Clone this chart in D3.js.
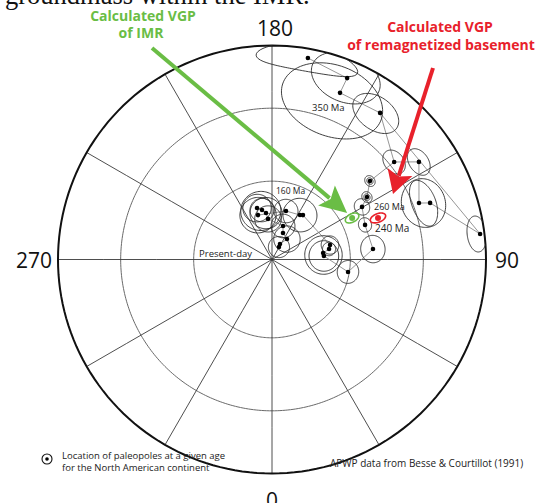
<!DOCTYPE html>
<html>
<head>
<meta charset="utf-8">
<script src="https://cdn.jsdelivr.net/npm/d3@7"></script>
<style>
  body { margin: 0; background: #fff; }
  svg { display: block; }
  text { font-family: "Open Sans", "DejaVu Sans", sans-serif; }
</style>
</head>
<body>
<svg id="chart" width="538" height="503"></svg>
<script>
// ---- Graticule of the polar equal-area net ----
const meridianLons = [0, 30, 60, 90, 120, 150, 180, 210, 240, 270, 300, 330];
const parallelColats = [30, 60];            // small circles around the pole
const axisLons = [0, 90, 180, 270];
const axisTexts = ["0", "90", "180", "270"];

// ---- North American APWP poles (lon °E, lat °N), young to old ----
const poleLon = [150.8, 152.7, 143.8, 157.5, 161.8, 185.6, 187.4, 191.4, 196.2, 197.5,
                 163.9, 147.8, 145.1, 104.0, 100.4, 97.3, 93.9, 80.7, 95.9, 110.4,
                 120.3, 123.3, 128.7, 128.6, 123.6, 111.0, 109.7, 97.0, 143.6, 157.8,
                 157.5, 169.9];
const poleLat = [84.6, 83.4, 80.4, 79.1, 76.6, 74.5, 72.2, 70.8, 69.6, 72.3,
                 70.8, 70.0, 69.4, 67.2, 67.9, 70.4, 70.2, 60.5, 50.8, 51.7,
                 49.7, 45.9, 41.0, 27.8, 18.7, 27.3, 22.6, 2.3, 16.0, 17.0,
                 9.1, 4.9];
// polar wander path, as runs of pole indices
const pathRuns = [
  [0, 1, 2, 3, 4, 5, 6, 7, 8, 9, 10, 11, 12, 13, 14, 15, 16, 17, 18, 19,
   20, 21, 22, 23, 24, 25, 26, 27, 28, 29, 30, 31],
  [23, 28]
];

// ---- Confidence regions: centre lon/lat, semi-axes (deg), azimuth of first axis ----
const ovalLon   = [196.2, 191.4, 187.4, 197.5, 185.6, 193.0, 161.8, 143.8, 150.8, 163.9,
                   147.8, 93.9, 95.0, 104.0, 100.4, 80.7, 95.9, 110.4, 120.3, 123.3,
                   123.3, 128.7, 128.7, 128.6, 123.6, 110.4, 110.4, 97.1, 144.6, 159.2,
                   157.9, 169.9];
const ovalLat   = [69.6, 70.8, 72.2, 72.3, 74.5, 71.0, 76.6, 80.4, 84.6, 70.8,
                   70.0, 70.2, 70.3, 67.2, 67.9, 60.5, 50.8, 51.7, 49.7, 45.9,
                   45.9, 41.0, 41.0, 27.8, 18.7, 25.2, 25.2, 3.9, 17.15, 20.9,
                   8.8, 4.9];
const ovalMajor = [5.3, 4.5, 6.0, 6.8, 5.0, 7.5, 4.5, 5.0, 4.0, 4.5,
                   6.4, 5.7, 7.2, 3.4, 2.5, 4.2, 4.9, 2.6, 3.0, 1.2,
                   2.0, 1.2, 2.0, 4.3, 4.5, 7.7, 9.8, 5.0, 7.8, 16.4,
                   12.0, 14.5];
const ovalMinor = [5.3, 4.5, 6.0, 6.8, 5.0, 7.5, 4.5, 5.0, 4.0, 4.5,
                   6.4, 5.7, 7.2, 3.4, 2.5, 4.2, 4.9, 2.6, 3.0, 1.2,
                   2.0, 1.2, 2.0, 4.3, 4.5, 5.4, 7.9, 5.0, 7.8, 16.4,
                   10.3, 6.7];
const ovalAzimuth = [0, 0, 0, 0, 0, 0, 0, 0, 0, 0,
                     0, 0, 0, 0, 0, 0, 0, 0, 0, 0,
                     0, 0, 0, 0, 0, 90, 0, 0, 0, 0,
                     0, 90];

// ---- Age labels attached to poles ----
const ageTexts = ["160 Ma", "260 Ma", "240 Ma", "350 Ma"];
const agePole  = [10, 20, 19, 29];

// ---- Calculated VGPs: lon, lat, dp, dm ----
const vgpNames = ["IMR", "basement"];
const vgpLon = [117.4, 111.4];
const vgpLat = [55.3, 45.8];
const vgpDp  = [1.5, 1.5];
const vgpDm  = [2.9, 3.3];

const svg = d3.select("#chart");
const cx = 272, cy = 259.5, R = 214;

const projection = d3.geoAzimuthalEqualArea()
  .rotate([0, -90])
  .scale(R / Math.SQRT2)
  .translate([cx, cy])
  .clipAngle(90)
  .precision(0.1);
const geoPath = d3.geoPath(projection);

// oval on the sphere built from great-circle offsets around its centre
function ovalLine(lon, lat, a, b, az) {
  const rad = Math.PI / 180, pts = [];
  const p1 = lat * rad, l1 = lon * rad;
  for (let i = 0; i <= 96; i++) {
    const t = i / 96 * 2 * Math.PI;
    const rho = a * b / Math.sqrt((b * Math.cos(t)) ** 2 + (a * Math.sin(t)) ** 2);
    const d = rho * rad, brg = az * rad + t;
    const p2 = Math.asin(Math.sin(p1) * Math.cos(d) + Math.cos(p1) * Math.sin(d) * Math.cos(brg));
    const l2 = l1 + Math.atan2(Math.sin(brg) * Math.sin(d) * Math.cos(p1),
                               Math.cos(d) - Math.sin(p1) * Math.sin(p2));
    pts.push([l2 / rad, p2 / rad]);
  }
  return { type: "LineString", coordinates: pts };
}

// caption line running above the figure
svg.append("text").attr("x", 5).attr("y", 4)
  .style("font-family", "'Liberation Serif', serif").style("font-size", "26.5px")
  .attr("fill", "#111").text("groundmass within the IMR.");

// grid
const grid = svg.append("g").attr("fill", "none");
parallelColats.forEach(c => {
  grid.append("path").attr("d", geoPath(d3.geoCircle().center([0, 90]).radius(c).precision(1)()))
    .attr("stroke", "#6a6a6a").attr("stroke-width", 1);
});
meridianLons.forEach(l => {
  grid.append("path").attr("d", geoPath({ type: "LineString", coordinates: [[l, 0], [l, 90]] }))
    .attr("stroke", "#3a3a3a").attr("stroke-width", 0.9);
});
grid.append("path").attr("d", geoPath({ type: "Sphere" }))
  .attr("stroke", "#111").attr("stroke-width", 2);

// axis labels around the net
const axisOffsets = [26.5, 21, 18, 24];
axisLons.forEach((l, i) => {
  const [x, y] = projection([l, 0]);
  const ang = l * Math.PI / 180;
  svg.append("text")
    .attr("x", x + Math.sin(ang) * axisOffsets[i] + (l === 180 ? 3 : 0))
    .attr("y", y + Math.cos(ang) * axisOffsets[i])
    .attr("text-anchor", "middle").attr("dominant-baseline", "central")
    .style("font-size", "21px").attr("fill", "#111").text(axisTexts[i]);
});

// polar wander path
pathRuns.forEach(run => {
  svg.append("path")
    .attr("d", d3.line()(run.map(i => projection([poleLon[i], poleLat[i]]))))
    .attr("fill", "none").attr("stroke", "#8a8a8a").attr("stroke-width", 0.9);
});

// confidence ovals
svg.append("g").selectAll("path").data(ovalLon).join("path")
  .attr("d", (d, i) => geoPath(ovalLine(ovalLon[i], ovalLat[i], ovalMajor[i], ovalMinor[i], ovalAzimuth[i])))
  .attr("fill", "none").attr("stroke", "#2a2a2a").attr("stroke-width", 0.9);

// pole positions
svg.append("g").selectAll("circle").data(poleLon).join("circle")
  .attr("cx", (d, i) => projection([poleLon[i], poleLat[i]])[0])
  .attr("cy", (d, i) => projection([poleLon[i], poleLat[i]])[1])
  .attr("r", 2.3).attr("fill", "#000");

// age labels
const ageOffsets = [[-10, -17], [12, 3], [10, 7], [-28, 18]];
const ageSizes = ["8.5px", "9px", "10px", "9.5px"];
ageTexts.forEach((t, i) => {
  const p = projection([poleLon[agePole[i]], poleLat[agePole[i]]]);
  svg.append("text").attr("x", p[0] + ageOffsets[i][0]).attr("y", p[1] + ageOffsets[i][1])
    .style("font-size", ageSizes[i]).attr("fill", "#222").text(t);
});
svg.append("text").attr("x", 252).attr("y", 257).attr("text-anchor", "end")
  .style("font-size", "9.5px").attr("fill", "#222").text("Present-day");

// calculated VGPs
const vgpColors = ["#6abd45", "#e8212b"];
vgpLon.forEach((l, i) => {
  svg.append("path").attr("d", geoPath(ovalLine(l, vgpLat[i], vgpDm[i], vgpDp[i], 0)))
    .attr("fill", "#fff").attr("stroke", vgpColors[i]).attr("stroke-width", 1.6);
  const p = projection([l, vgpLat[i]]);
  svg.append("circle").attr("cx", p[0]).attr("cy", p[1]).attr("r", 3).attr("fill", vgpColors[i]);
});

// annotation arrows
function arrow(x0, y0, x1, y1, color, len, half) {
  const dx = x1 - x0, dy = y1 - y0, L = Math.hypot(dx, dy);
  const ux = dx / L, uy = dy / L, px = -uy, py = ux;
  const bx = x1 - ux * len, by = y1 - uy * len;
  svg.append("line").attr("x1", x0).attr("y1", y0)
    .attr("x2", bx + ux * 4).attr("y2", by + uy * 4)
    .attr("stroke", color).attr("stroke-width", 4);
  const nx = x1 - ux * len * 0.8, ny = y1 - uy * len * 0.8;
  svg.append("path")
    .attr("d", `M${x1},${y1}L${bx + px * half},${by + py * half}L${nx},${ny}L${bx - px * half},${by - py * half}Z`)
    .attr("fill", color);
}
const gv = projection([vgpLon[0], vgpLat[0]]);
arrow(152, 48, gv[0] - 5, gv[1] - 5, vgpColors[0], 27, 13);
const rv = projection([vgpLon[1], vgpLat[1]]);
arrow(433, 68, rv[0] + 15, rv[1] - 24, vgpColors[1], 23, 13);

// annotation labels
const labels = [
  { x: 143, y: 21, t: "Calculated VGP", c: vgpColors[0] },
  { x: 141, y: 38, t: "of IMR", c: vgpColors[0] },
  { x: 440, y: 32, t: "Calculated VGP", c: vgpColors[1] },
  { x: 441, y: 50, t: "of remagnetized basement", c: vgpColors[1] }
];
labels.forEach(d => {
  svg.append("text").attr("x", d.x).attr("y", d.y).attr("text-anchor", "middle")
    .style("font-size", "14px").style("font-weight", "bold").attr("fill", d.c).text(d.t);
});

// legend and source
svg.append("circle").attr("cx", 47).attr("cy", 459).attr("r", 5)
  .attr("fill", "none").attr("stroke", "#111").attr("stroke-width", 1.1);
svg.append("circle").attr("cx", 47).attr("cy", 459).attr("r", 1.8).attr("fill", "#000");
svg.append("text").attr("x", 62).attr("y", 459).style("font-size", "9.5px").attr("fill", "#222")
  .text("Location of paleopoles at a given age");
svg.append("text").attr("x", 62).attr("y", 471).style("font-size", "9.5px").attr("fill", "#222")
  .text("for the North American continent");
svg.append("text").attr("x", 330).attr("y", 467).style("font-size", "10px").attr("fill", "#222")
  .text("APWP data from Besse & Courtillot (1991)");
</script>
</body>
</html>
